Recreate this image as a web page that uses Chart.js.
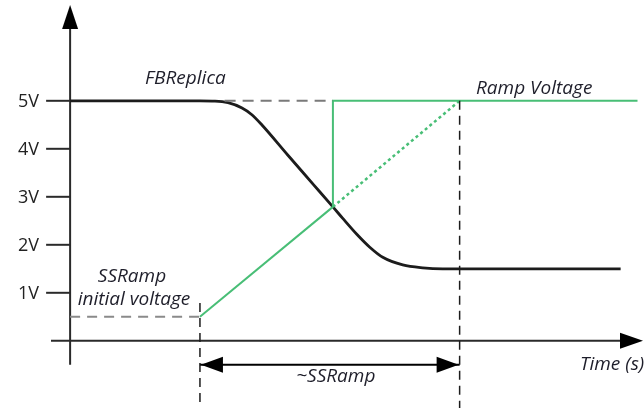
<!DOCTYPE html>
<html>
<head>
<meta charset="utf-8">
<script src="https://cdn.jsdelivr.net/npm/chart.js@4/dist/chart.umd.min.js"></script>
<style>
  html, body { margin: 0; padding: 0; background: #fff; }
  #chart-con { width: 644px; height: 408px; }
</style>
</head>
<body>
<div id="chart-con"><canvas id="my-chart-ramp" width="644" height="408"></canvas></div>
<script>
// FBReplica output (time, volts)
const fbTime = [0, 5.0, 5.58, 6.08, 6.62, 7.0, 7.38, 8.38, 9.38, 10.12, 10.5, 11.04, 11.54, 12.04, 12.81, 13.58, 14.35, 15.0, 21.2];
const fbVolt = [5.0, 5.0, 4.995, 4.96, 4.85, 4.71, 4.50, 3.87, 3.25, 2.79, 2.55, 2.22, 1.95, 1.74, 1.58, 1.52, 1.50, 1.50, 1.50];

// soft-start ramp: start, crossing with FBReplica, end
const rampTime = [5.0, 10.12, 15.0];
const rampVolt = [0.5, 2.79, 5.0];

// ramp voltage once it has crossed FBReplica
const stepTime = [10.12, 10.12, 21.85];
const stepVolt = [2.79, 5.0, 5.0];

// guide lines
const topGuideTime = [5.95, 10.12];
const topGuideVolt = [5.0, 5.0];
const initGuideTime = [0, 5.0];
const initGuideVolt = [0.5, 0.5];
const markerTime = [5.0, 15.0];
const markerVolt = [0.79, 5.0];
const spanVolt = -0.5;

const yTickValues = [1, 2, 3, 4, 5];
const yTickLabels = ['1V', '2V', '3V', '4V', '5V'];

const green = 'rgb(72, 190, 118)';
const ink = '#1c1c1c';

function pts(xs, ys) {
    return xs.map((x, i) => ({ x: x, y: ys[i] }));
}

function arrowHead(ctx, tipX, tipY, dir, len, half) {
    // dir: 'up', 'left', 'right'
    ctx.beginPath();
    ctx.moveTo(tipX, tipY);
    if (dir === 'up') {
        ctx.lineTo(tipX - half, tipY + len);
        ctx.lineTo(tipX + half, tipY + len);
    } else if (dir === 'right') {
        ctx.lineTo(tipX - len, tipY - half);
        ctx.lineTo(tipX - len, tipY + half);
    } else {
        ctx.lineTo(tipX + len, tipY - half);
        ctx.lineTo(tipX + len, tipY + half);
    }
    ctx.closePath();
    ctx.fill();
}

const diagramAxes = {
    id: 'diagramAxes',
    beforeDatasetsDraw(chart) {
        const ctx = chart.ctx;
        const xs = chart.scales.x;
        const ys = chart.scales.y;
        const x0 = xs.getPixelForValue(0);
        const y0 = ys.getPixelForValue(0);

        ctx.save();
        ctx.strokeStyle = '#2a2a2a';
        ctx.fillStyle = '#000';
        ctx.lineWidth = 2;

        // vertical axis
        ctx.beginPath();
        ctx.moveTo(x0, ys.getPixelForValue(-0.5));
        ctx.lineTo(x0, 20);
        ctx.stroke();
        arrowHead(ctx, x0, 5, 'up', 24, 8);

        // horizontal axis
        ctx.beginPath();
        ctx.moveTo(51, y0);
        ctx.lineTo(625, y0);
        ctx.stroke();
        arrowHead(ctx, 643, y0, 'right', 23, 8);

        // ticks and labels
        ctx.font = '18px "Open Sans"';
        ctx.textAlign = 'right';
        ctx.textBaseline = 'middle';
        yTickValues.forEach((v, i) => {
            const py = ys.getPixelForValue(v);
            ctx.beginPath();
            ctx.moveTo(x0 - 24, py);
            ctx.lineTo(x0, py);
            ctx.stroke();
            ctx.fillStyle = '#222';
            ctx.fillText(yTickLabels[i], 39, py + 1);
        });
        ctx.restore();
    },
    afterDatasetsDraw(chart) {
        const ctx = chart.ctx;
        const xs = chart.scales.x;
        const ys = chart.scales.y;
        const ax = xs.getPixelForValue(rampTime[0]);
        const bx = xs.getPixelForValue(rampTime[2]);
        const ay = ys.getPixelForValue(spanVolt);

        ctx.save();
        ctx.fillStyle = '#000';
        arrowHead(ctx, ax + 1, ay, 'left', 22, 8);
        arrowHead(ctx, bx - 1, ay, 'right', 22, 8);

        ctx.fillStyle = '#1e1e2a';
        ctx.font = 'italic 19px "Open Sans"';
        ctx.textBaseline = 'alphabetic';
        ctx.textAlign = 'left';
        ctx.fillText('FBReplica', 145, 84);
        ctx.fillText('Ramp Voltage', 476, 94);
        ctx.fillText('Time (s)', 580, 370);
        ctx.textAlign = 'center';
        ctx.fillText('SSRamp', 132, 282);
        ctx.fillText('initial voltage', 134, 305);
        ctx.fillText('~SSRamp', (ax + bx) / 2 + 6, 382);
        ctx.restore();
    }
};

const data = {
    datasets: [
        {
            label: 'Top guide',
            data: pts(topGuideTime, topGuideVolt),
            borderColor: '#7a7a7a',
            borderWidth: 2,
            borderDash: [11, 7]
        },
        {
            label: 'Initial guide',
            data: pts(initGuideTime, initGuideVolt),
            borderColor: '#8a8a8a',
            borderWidth: 2,
            borderDash: [10, 7]
        },
        {
            label: 'Ramp start',
            data: [{ x: markerTime[0], y: markerVolt[0] }, { x: markerTime[0], y: -1.4 }],
            borderColor: ink,
            borderWidth: 1.5,
            borderDash: [9, 6]
        },
        {
            label: 'Ramp end',
            data: [{ x: markerTime[1], y: markerVolt[1] }, { x: markerTime[1], y: -1.4 }],
            borderColor: ink,
            borderWidth: 1.5,
            borderDash: [9, 6]
        },
        {
            label: 'SSRamp span',
            data: [{ x: rampTime[0], y: spanVolt }, { x: rampTime[2], y: spanVolt }],
            borderColor: '#000',
            borderWidth: 2
        },
        {
            label: 'Ramp',
            data: pts(rampTime.slice(0, 2), rampVolt.slice(0, 2)),
            borderColor: green,
            borderWidth: 2
        },
        {
            label: 'Ramp (overridden)',
            data: pts(rampTime.slice(1), rampVolt.slice(1)),
            borderColor: green,
            borderWidth: 2.5,
            borderDash: [3, 3]
        },
        {
            label: 'Ramp Voltage',
            data: pts(stepTime, stepVolt),
            borderColor: green,
            borderWidth: 2
        },
        {
            label: 'FBReplica',
            data: pts(fbTime, fbVolt),
            borderColor: ink,
            borderWidth: 2.8,
            cubicInterpolationMode: 'monotone'
        }
    ]
};

const config = {
    type: 'line',
    data,
    options: {
        responsive: false,
        animation: false,
        layout: { padding: 0 },
        elements: { point: { radius: 0, hoverRadius: 0 } },
        scales: {
            x: { type: 'linear', min: -2.7, max: 22.1, display: false },
            y: { type: 'linear', min: -1.4, max: 7.1, display: false }
        },
        plugins: {
            legend: { display: false },
            tooltip: { enabled: false }
        },
        events: []
    },
    plugins: [diagramAxes]
};

var myChart = new Chart(
    document.getElementById('my-chart-ramp').getContext('2d'),
    config
);
</script>
</body>
</html>
